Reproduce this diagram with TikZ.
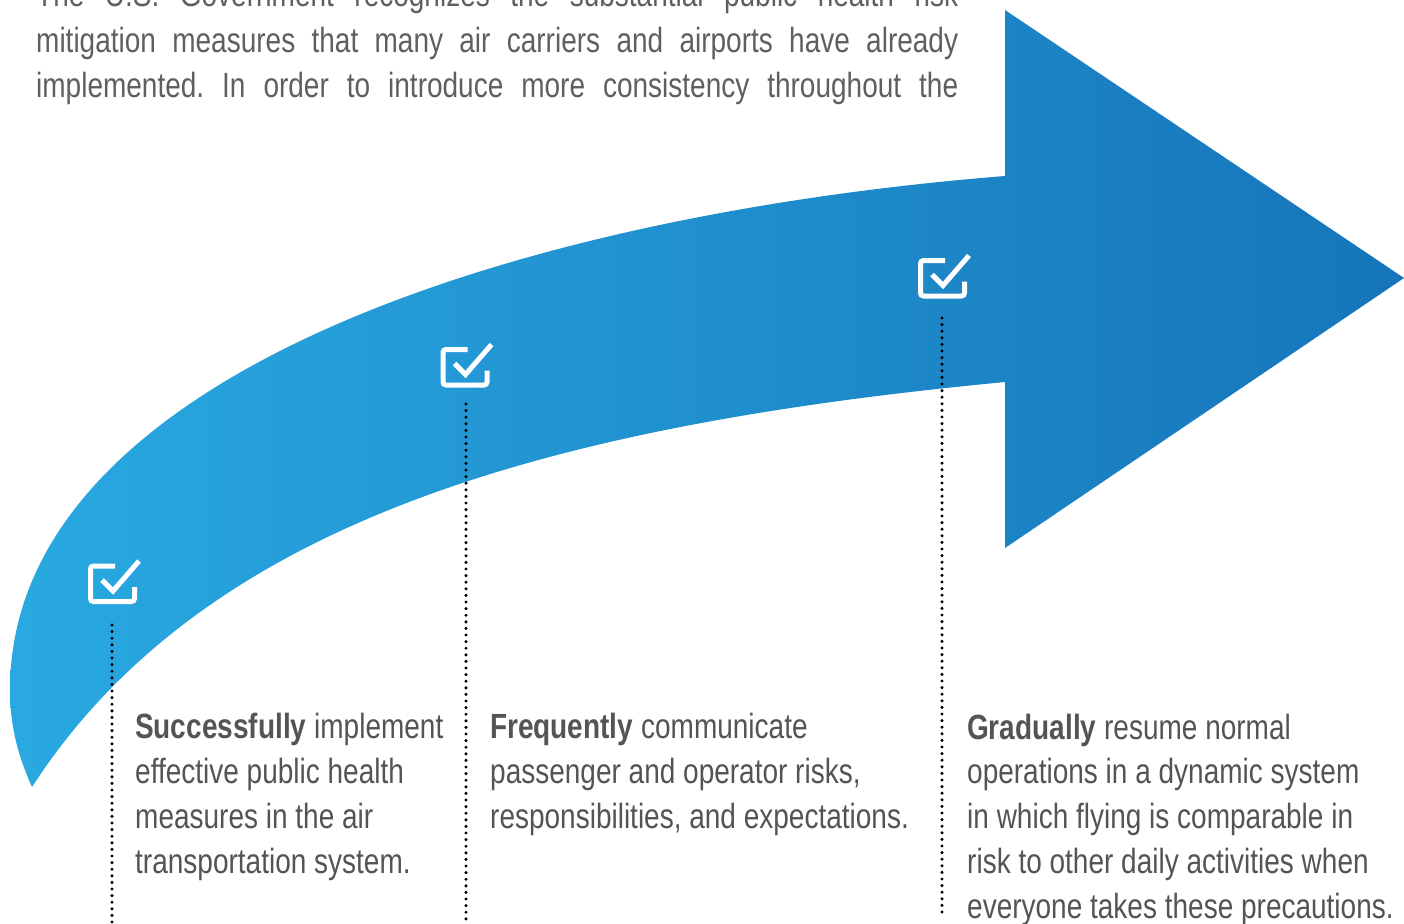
\documentclass[tikz,border=0pt]{standalone}
\usepackage{fontspec}
\setmainfont[FakeStretch=0.8]{Liberation Sans}
\usepackage{tikz}
\pgfdeclarelayer{bg}
\pgfsetlayers{bg,main}
\frenchspacing
\definecolor{bandleft}{HTML}{29A9E1}
\definecolor{bandright}{HTML}{1675BA}
\definecolor{bodygray}{HTML}{535456}
\definecolor{introgray}{HTML}{5E5F61}
\tikzset{
  checkbox/.pic={
    \draw[white, line width=5pt, rounded corners=3pt] (2.5,-17.5) -- (-22,-17.5) -- (-22,18) -- (22,18) -- (22,3.5);
    \draw[white, line width=5pt] (-10.5,-3.5) -- (0.5,7.5) -- (26.5,-22.5);
  },
  steptext/.style={anchor=base west, align=left, text=bodygray, inner sep=0pt, font=\fontsize{35}{44.7}\selectfont},
  leader/.style={draw=black, line width=3.4pt, line cap=round, dash pattern=on 0pt off 6.6pt}
}
\begin{document}
\begin{tikzpicture}[x=1pt,y=-1pt]
        \clip (0,0) rectangle (1404,923);
        \begin{pgfonlayer}{bg}
                \shade[left color=bandleft, right color=bandright] (1005,176) .. controls (505,216) and (10,380) .. (10,690) .. controls (10,730) and (20,760) .. (32,787) .. controls (206,518) and (555,425) .. (1005,382) -- (1005,548) -- (1404,278) -- (1005,10) -- cycle;
        \end{pgfonlayer}
        \node (intro) [anchor=base west, align=left, text=introgray, inner sep=0pt, font=\fontsize{35}{45.5}\selectfont] at (36,98) {\makebox[922pt][s]{The U.S. Government recognizes the substantial public health risk}\\\makebox[922pt][s]{mitigation measures that many air carriers and airports have already}\\\makebox[922pt][s]{implemented. In order to introduce more consistency throughout the}};
        \coordinate (c1) at (112.5,583.5);
        \coordinate (c2) at (465,367);
        \coordinate (c3) at (942.5,278);
        \pic at (c1) {checkbox};
        \pic at (c2) {checkbox};
        \pic at (c3) {checkbox};
        \coordinate (l1top) at (112,625);
        \coordinate (l1bot) at (112,923);
        \coordinate (l2top) at (466,404);
        \coordinate (l2bot) at (466,923);
        \coordinate (l3top) at (942,318);
        \coordinate (l3bot) at (942,912);
        \draw[leader] (l1top) -- (l1bot);
        \draw[leader] (l2top) -- (l2bot);
        \draw[leader] (l3top) -- (l3bot);
        \node (s1) [steptext] at (135,873) {\textbf{Successfully} implement\\effective public health\\measures in the air\\transportation system.};
        \node (s2) [steptext] at (490,828) {\textbf{Frequently} communicate\\passenger and operator risks,\\responsibilities, and expectations.};
        \node (s3) [steptext] at (967,918) {\textbf{Gradually} resume normal\\operations in a dynamic system\\in which flying is comparable in\\risk to other daily activities when\\everyone takes these precautions.};
\end{tikzpicture}
\end{document}
